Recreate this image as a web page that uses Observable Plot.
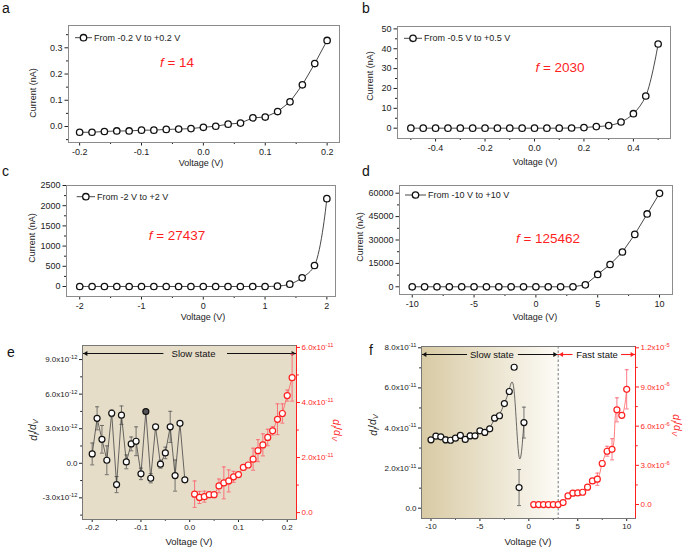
<!DOCTYPE html>
<html>
<head>
<meta charset="utf-8">
<script src="https://cdn.jsdelivr.net/npm/d3@7"></script>
<script src="https://cdn.jsdelivr.net/npm/@observablehq/plot@0.6"></script>
<style>
  html, body { margin: 0; padding: 0; background: #fff; }
  #root { position: relative; width: 685px; height: 549px; overflow: hidden; background: #fff; }
</style>
</head>
<body>
<div id="root"></div>
<script>
// ======================= DATA =======================
// Panel a
const aVoltage = [-0.2,-0.18,-0.16,-0.14,-0.12,-0.1,-0.08,-0.06,-0.04,-0.02,0,0.02,0.04,0.06,0.08,0.1,0.12,0.14,0.16,0.18,0.2];
const aCurrent = [-0.022,-0.022,-0.019,-0.017,-0.017,-0.014,-0.014,-0.011,-0.010,-0.008,-0.003,0.001,0.009,0.013,0.033,0.036,0.057,0.094,0.159,0.240,0.328];
const aLegend = "From -0.2 V to +0.2 V";
const aF = "14";
const aXTicks = [-0.2,-0.1,0,0.1,0.2];
const aXMinor = [-0.15,-0.05,0.05,0.15];
const aYTicks = [0,0.1,0.2,0.3];
const aYMinor = [-0.05,0.05,0.15,0.25,0.35];
// Panel b
const bVoltage = [-0.5,-0.45,-0.4,-0.35,-0.3,-0.25,-0.2,-0.15,-0.1,-0.05,0,0.05,0.1,0.15,0.2,0.25,0.3,0.35,0.4,0.45,0.5];
const bCurrent = [0,0,0,0,0,0,0,0,0,0,0,0,0,0.1,0.3,0.8,1.3,3.1,7.3,16.2,42.4];
const bLegend = "From -0.5 V to +0.5 V";
const bF = "2030";
const bXTicks = [-0.4,-0.2,0,0.2,0.4];
const bXMinor = [-0.5,-0.3,-0.1,0.1,0.3,0.5];
const bYTicks = [0,10,20,30,40,50];
const bYMinor = [5,15,25,35,45];
// Panel c
const cVoltage = [-2,-1.8,-1.6,-1.4,-1.2,-1,-0.8,-0.6,-0.4,-0.2,0,0.2,0.4,0.6,0.8,1,1.2,1.4,1.6,1.8,2];
const cCurrent = [0,0,0,0,0,0,0,0,0,0,0,0,0,0,0,0,8,58,215,520,2175];
const cLegend = "From -2 V to +2 V";
const cF = "27437";
const cXTicks = [-2,-1,0,1,2];
const cXMinor = [-1.5,-0.5,0.5,1.5];
const cYTicks = [0,500,1000,1500,2000,2500];
const cYMinor = [250,750,1250,1750,2250];
// Panel d
const dVoltage = [-10,-9,-8,-7,-6,-5,-4,-3,-2,-1,0,1,2,3,4,5,6,7,8,9,10];
const dCurrent = [0,0,0,0,0,0,0,0,0,0,0,0,0,0,1250,7900,14300,22300,33600,46700,59900];
const dLegend = "From -10 V to +10 V";
const dF = "125462";
const dXTicks = [-10,-5,0,5,10];
const dXMinor = [-7.5,-2.5,2.5,7.5];
const dYTicks = [0,15000,30000,45000,60000];
const dYMinor = [7500,22500,37500,52500];
// Panel e (black: left axis, unit 1e-12; red: right axis, unit 1e-11)
const eBlackVoltage = [-0.2,-0.19,-0.18,-0.17,-0.16,-0.15,-0.14,-0.13,-0.12,-0.11,-0.1,-0.09,-0.08,-0.07,-0.06,-0.05,-0.04,-0.03,-0.02,-0.01];
const eBlackDIDV = [0.81,3.9,2.08,0.26,4.34,-1.85,4.17,0.12,1.68,1.91,-0.92,4.49,-1.3,3.16,-0.08,0.9,3.16,-1.07,3.47,-1.44];
const eBlackErr = [0.95,1.0,1.2,1.25,0.3,0.7,0.8,0.6,0.6,1.25,0.5,0.05,0.4,0.1,0.35,0.5,1.35,1.35,0.1,0.1];
const eBlackUnit = 1e-12;
const eBlackFilled = [-0.09];
const eRedVoltage = [0.01,0.02,0.03,0.04,0.05,0.06,0.07,0.08,0.09,0.1,0.11,0.12,0.13,0.14,0.15,0.16,0.17,0.18,0.19,0.2,0.21];
const eRedDIDV = [0.67,0.55,0.58,0.65,0.65,0.97,1.08,1.15,1.3,1.38,1.64,1.73,1.94,2.25,2.46,2.73,2.97,3.39,3.6,4.25,4.9];
const eRedErr = [0.48,0.22,0.2,0.05,0.05,0.25,0.58,0.4,0.2,0.05,0.05,0.05,0.4,0.4,0.4,0.3,0.15,0.56,0.35,0.2,0.85];
const eRedUnit = 1e-11;
const eXTicks = [-0.2,-0.1,0,0.1,0.2];
const eXMinor = [-0.15,-0.05,0.05,0.15];
const eYTicks = [-3e-12,0,3e-12,6e-12,9e-12];
const eYMinor = [-4.5e-12,-1.5e-12,1.5e-12,4.5e-12,7.5e-12];
const eY2Ticks = [0,2e-11,4e-11,6e-11];
const eY2Minor = [1e-11,3e-11,5e-11];
const eStateLabels = ["Slow state"];
// Panel f (black: left axis, unit 1e-11; red: right axis, unit 1e-6)
const fBlackVoltage = [-10,-9.5,-9,-8.5,-8,-7.5,-7,-6.5,-6,-5.5,-5,-4.5,-4,-3.5,-3,-2.5,-2,-1.5,-1,-0.5];
const fBlackDIDV = [3.41,3.59,3.56,3.41,3.39,3.49,3.63,3.43,3.61,3.61,3.86,3.78,3.96,4.49,4.61,5.22,5.82,7.03,1.03,4.27];
const fBlackErr = [0.05,0.05,0.08,0.15,0.05,0.05,0.05,0.05,0.15,0.05,0.05,0.05,0.05,0.05,0.05,0.05,0.1,0.08,0.9,0.77];
const fBlackUnit = 1e-11;
const fRedVoltage = [0.5,1,1.5,2,2.5,3,3.5,4,4.5,5,5.5,6,6.5,7,7.5,8,8.5,9,9.5,10];
const fRedDIDV = [0,0,0,0,0,0,0.15,0.66,0.87,0.89,0.94,1.33,1.81,1.94,3.14,4.08,4.23,7.25,6.83,8.82];
const fRedErr = [0,0,0,0,0,0,0.05,0.1,0.08,0.05,0.05,0.1,0.15,0.47,0.23,0.38,0.81,0.92,0.1,1.5];
const fRedUnit = 1e-6;
const fBoundary = 3;
const fXTicks = [-10,-5,0,5,10];
const fXMinor = [-7.5,-2.5,2.5,7.5];
const fYTicks = [0,2e-11,4e-11,6e-11,8e-11];
const fYMinor = [1e-11,3e-11,5e-11,7e-11];
const fY2Ticks = [0,3e-6,6e-6,9e-6,1.2e-5];
const fY2Minor = [1.5e-6,4.5e-6,7.5e-6,1.05e-5];
const fStateLabels = ["Slow state","Fast state"];
const panelLetters = ["a","b","c","d","e","f"];

// ======================= RENDER =======================
const FONT = '"Liberation Sans", Arial, Helvetica, sans-serif';
const RED = "#ff1f1f";
const root = document.getElementById("root");

const fixed = n => v => v.toFixed(n);
const plain = v => String(v);
const blank = () => "";
const sci = v => {
  if (v === 0) return "0.0";
  const e = Math.floor(Math.log10(Math.abs(v)) + 1e-9);
  return (v / Math.pow(10, e)).toFixed(1) + "x10^" + e;
};

function superscripts(svg) {
  svg.querySelectorAll("text").forEach(t => {
    const m = t.textContent.match(/^(.*x10)\^(.+)$/);
    if (!m) return;
    t.textContent = "";
    const sel = d3.select(t);
    sel.append("tspan").text(m[1]);
    sel.append("tspan").attr("font-size", "72%").attr("dy", "-0.55em").text(m[2]);
  });
}

function place(svg, left, top) {
  svg.style.position = "absolute";
  svg.style.left = left + "px";
  svg.style.top = top + "px";
  svg.style.maxWidth = "none";
  root.appendChild(svg);
}

function styleStr(size, color) {
  return `font-family: ${FONT}; font-size: ${size}px; color: ${color}; background: transparent; overflow: visible;`;
}

function ivPanel(c) {
  const data = c.V.map((v, k) => ({v, i: c.I[k]}));
  const [mt, mr, mb, ml] = c.m;
  const svg = Plot.plot({
    width: c.w, height: c.h, marginTop: mt, marginRight: mr, marginBottom: mb, marginLeft: ml,
    style: styleStr(9, "#222"),
    x: {domain: c.xDomain, label: null},
    y: {domain: c.yDomain, label: null},
    marks: [
      Plot.axisX({ticks: c.xTicks, tickFormat: c.xFmt, tickSize: 3.5, tickPadding: 2.5, label: null}),
      Plot.axisX({ticks: c.xMinor, tickFormat: blank, tickSize: 2, label: null}),
      Plot.axisY({ticks: c.yTicks, tickFormat: c.yFmt, tickSize: 3.5, tickPadding: 2.5, label: null}),
      Plot.axisY({ticks: c.yMinor, tickFormat: blank, tickSize: 2, label: null}),
      Plot.line(data, {x: "v", y: "i", curve: c.curve, stroke: "#333", strokeWidth: 0.9}),
      Plot.dot(data, {x: "v", y: "i", r: 3.2, stroke: "#111", strokeWidth: 1.3, fill: "white"}),
      Plot.frame({stroke: "#8c8c8c"})
    ]
  });
  const s = d3.select(svg);
  // legend
  const [lx, ly, len] = c.leg;
  const lg = s.append("g").attr("transform", `translate(${ml + lx},${mt + ly})`);
  lg.append("line").attr("x1", 0).attr("x2", len).attr("stroke", "#333").attr("stroke-width", 0.9);
  lg.append("circle").attr("cx", len / 2).attr("r", 3.2).attr("fill", "white").attr("stroke", "#111").attr("stroke-width", 1.3);
  lg.append("text").attr("x", len + 2).attr("dy", "0.35em").attr("text-anchor", "start")
    .attr("font-size", 9).attr("fill", "#222").text(c.legend);
  // f = ...
  const ft = s.append("text").attr("x", c.fPos[0]).attr("y", c.fPos[1]).attr("text-anchor", "middle")
    .attr("fill", RED).attr("font-size", 13.5);
  ft.append("tspan").attr("font-style", "italic").text("f");
  ft.append("tspan").text(" = " + c.f);
  // axis titles
  s.append("text").attr("transform", `translate(${c.yt[0]},${c.yt[1]}) rotate(-90)`)
    .attr("text-anchor", "middle").attr("dy", "0.35em").attr("font-size", 9).attr("fill", "#222").text("Current (nA)");
  s.append("text").attr("x", c.xt[0]).attr("y", c.xt[1]).attr("text-anchor", "middle")
    .attr("dy", "0.35em").attr("font-size", 9).attr("fill", "#222").text("Voltage (V)");
  place(svg, c.left, c.top);
}

function dIdV(sel) {
  sel.append("tspan").attr("font-style", "italic").text("d");
  sel.append("tspan").attr("font-style", "italic").attr("font-size", "70%").attr("dy", "0.35em").text("I");
  sel.append("tspan").attr("dy", "-0.35em").text("/");
  sel.append("tspan").attr("font-style", "italic").text("d");
  sel.append("tspan").attr("font-style", "italic").attr("font-size", "70%").attr("dy", "0.35em").text("V");
}

const cap = {draw(ctx, size) { const w = Math.sqrt(size / Math.PI); ctx.moveTo(-w, 0); ctx.lineTo(w, 0); }};

function dualPanel(c) {
  const [mt, mr, mb, ml] = c.m;
  const fh = c.h - mt - mb;
  const blk = c.bV.map((v, k) => ({v, y: c.bY[k] * c.bUnit, e: c.bE[k] * c.bUnit,
    fill: c.filled.includes(v) ? "#555" : "white"}));
  const red = c.rV.map((v, k) => ({v, y: c.rY[k] * c.rUnit, e: c.rE[k] * c.rUnit}));
  const yArr = c.yDomain[1] - (c.arrowPx / fh) * (c.yDomain[1] - c.yDomain[0]);
  const base = {width: c.w, height: c.h, marginTop: mt, marginRight: mr, marginBottom: mb, marginLeft: ml};
  const stateMarks = c.states.flatMap(st => {
    const from = st.from ?? c.xDomain[0], to = st.to ?? c.xDomain[1];
    return [
      Plot.ruleY([yArr], {x1: from, x2: st.gap[0], stroke: st.color, strokeWidth: 1.1}),
      Plot.ruleY([yArr], {x1: st.gap[1], x2: to, stroke: st.color, strokeWidth: 1.1}),
      Plot.dot([from], {x: d => d, y: () => yArr, symbol: "triangle2", r: 2.3, rotate: -90, dx: 3.5, fill: st.color, stroke: "none"}),
      Plot.dot([to], {x: d => d, y: () => yArr, symbol: "triangle2", r: 2.3, rotate: 90, dx: -3.5, fill: st.color, stroke: "none"}),
      Plot.text([st.label], {x: st.center, y: yArr, text: d => d, fill: "#111", fontSize: 9.5})
    ];
  });
  const gid = "grad-" + c.id;
  const frameFill = c.gradient ? `url(#${gid})` : c.bg;
  const svgA = Plot.plot({
    ...base,
    style: styleStr(8, "#222"),
    x: {domain: c.xDomain, label: null},
    y: {domain: c.yDomain, label: null},
    marks: [
      Plot.frame({fill: frameFill, stroke: "none"}),
      ...(c.boundary != null ? [Plot.ruleX([c.boundary], {stroke: "#777", strokeDasharray: "2.5,2", strokeWidth: 1})] : []),
      ...stateMarks,
      Plot.axisX({ticks: c.xTicks, tickFormat: c.xFmt, tickSize: 3, tickPadding: 2, label: null}),
      Plot.axisX({ticks: c.xMinor, tickFormat: blank, tickSize: 1.8, label: null}),
      Plot.axisY({ticks: c.yTicks, tickFormat: sci, tickSize: 3, tickPadding: 2, label: null}),
      Plot.axisY({ticks: c.yMinor, tickFormat: blank, tickSize: 1.8, label: null}),
      Plot.ruleX(blk, {x: "v", y1: d => d.y - d.e, y2: d => d.y + d.e, stroke: "#555", strokeWidth: 0.8}),
      Plot.dot(blk, {x: "v", y: d => d.y - d.e, symbol: cap, r: 2, stroke: "#555", strokeWidth: 0.8, fill: "none"}),
      Plot.dot(blk, {x: "v", y: d => d.y + d.e, symbol: cap, r: 2, stroke: "#555", strokeWidth: 0.8, fill: "none"}),
      Plot.line(blk, {x: "v", y: "y", curve: c.bCurve, stroke: "#444", strokeWidth: 0.8}),
      Plot.dot(blk, {x: "v", y: "y", r: 3, stroke: "#111", strokeWidth: 1.2, fill: "fill"}),
      Plot.frame({stroke: "#777"})
    ]
  });
  const sA = d3.select(svgA);
  if (c.gradient) {
    const off = (c.boundary - c.xDomain[0]) / (c.xDomain[1] - c.xDomain[0]);
    const lg = sA.insert("defs", ":first-child").append("linearGradient")
      .attr("id", gid).attr("x1", 0).attr("x2", 1).attr("y1", 0).attr("y2", 0);
    lg.append("stop").attr("offset", 0).attr("stop-color", c.gradient[0]);
    lg.append("stop").attr("offset", off).attr("stop-color", c.gradient[1]);
    lg.append("stop").attr("offset", off).attr("stop-color", "#ffffff");
    lg.append("stop").attr("offset", 1).attr("stop-color", "#ffffff");
  }
  dIdV(sA.append("text").attr("transform", `translate(${c.yt[0]},${c.yt[1]}) rotate(-90)`)
    .attr("text-anchor", "middle").attr("dy", "0.35em").attr("font-size", 10.5).attr("fill", "#222"));
  sA.append("text").attr("x", c.xt[0]).attr("y", c.xt[1]).attr("text-anchor", "middle")
    .attr("dy", "0.35em").attr("font-size", 9.5).attr("fill", "#222").text("Voltage (V)");
  superscripts(svgA);
  place(svgA, c.left, c.top);

  const svgB = Plot.plot({
    ...base,
    style: styleStr(8, RED),
    x: {domain: c.xDomain, axis: null},
    y: {domain: c.y2Domain, label: null},
    marks: [
      Plot.ruleX([c.xDomain[1]], {stroke: RED, strokeWidth: 1}),
      Plot.axisY({anchor: "right", ticks: c.y2Ticks, tickFormat: sci, tickSize: 3, tickPadding: 2, label: null}),
      Plot.axisY({anchor: "right", ticks: c.y2Minor, tickFormat: blank, tickSize: 1.8, label: null}),
      Plot.ruleX(red, {x: "v", y1: d => d.y - d.e, y2: d => d.y + d.e, stroke: "#f56", strokeWidth: 0.8}),
      Plot.dot(red, {x: "v", y: d => d.y - d.e, symbol: cap, r: 2, stroke: "#f56", strokeWidth: 0.8, fill: "none"}),
      Plot.dot(red, {x: "v", y: d => d.y + d.e, symbol: cap, r: 2, stroke: "#f56", strokeWidth: 0.8, fill: "none"}),
      Plot.line(red, {x: "v", y: "y", curve: c.rCurve, stroke: "#ff5a5a", strokeWidth: 0.8}),
      Plot.dot(red, {x: "v", y: "y", r: 3, stroke: RED, strokeWidth: 1.2, fill: "white"})
    ]
  });
  const sB = d3.select(svgB);
  dIdV(sB.append("text").attr("transform", `translate(${c.y2t[0]},${c.y2t[1]}) rotate(90)`)
    .attr("text-anchor", "middle").attr("dy", "0.35em").attr("font-size", 10.5).attr("fill", RED));
  superscripts(svgB);
  place(svgB, c.left, c.top);
}

// ---- panels a-d ----
ivPanel({left: 0, top: 0, w: 342, h: 170, m: [25, 3, 28, 68],
  xDomain: [-0.218, 0.22], yDomain: [-0.061, 0.385],
  xTicks: aXTicks, xMinor: aXMinor, xFmt: fixed(1), yTicks: aYTicks, yMinor: aYMinor, yFmt: fixed(1),
  V: aVoltage, I: aCurrent, curve: "linear", legend: aLegend, f: aF,
  leg: [7, 12.7, 17], fPos: [177, 67], yt: [33, 93], xt: [201, 163]});
ivPanel({left: 342, top: 0, w: 343, h: 170, m: [26, 15, 32, 55],
  xDomain: [-0.554, 0.55], yDomain: [-5.2, 51.2],
  xTicks: bXTicks, xMinor: bXMinor, xFmt: fixed(1), yTicks: bYTicks, yMinor: bYMinor, yFmt: plain,
  V: bVoltage, I: bCurrent, curve: "catmull-rom", legend: bLegend, f: bF,
  leg: [7, 12.3, 18], fPos: [218, 72], yt: [28, 76], xt: [193, 162]});
ivPanel({left: 0, top: 170, w: 342, h: 160, m: [15, 7, 34, 66],
  xDomain: [-2.214, 2.14], yDomain: [-248, 2500],
  xTicks: cXTicks, xMinor: cXMinor, xFmt: plain, yTicks: cYTicks, yMinor: cYMinor, yFmt: plain,
  V: cVoltage, I: cCurrent, curve: "catmull-rom", legend: cLegend, f: cF,
  leg: [10.7, 11.7, 18.3], fPos: [177, 70], yt: [32, 68], xt: [203, 147]});
ivPanel({left: 342, top: 170, w: 343, h: 160, m: [15, 13, 36, 57],
  xDomain: [-11.03, 11.05], yDomain: [-4940, 64940],
  xTicks: dXTicks, xMinor: dXMinor, xFmt: plain, yTicks: dYTicks, yMinor: dYMinor, yFmt: plain,
  V: dVoltage, I: dCurrent, curve: "linear", legend: dLegend, f: dF,
  leg: [6, 10, 21], fPos: [206, 73], yt: [18, 67], xt: [193, 147]});

// ---- panels e-f ----
dualPanel({id: "e", left: 0, top: 340, w: 342, h: 209, m: [5, 46, 30, 82],
  xDomain: [-0.2199, 0.219], yDomain: [-4.88e-12, 10.22e-12], y2Domain: [-0.25e-11, 6.07e-11],
  xTicks: eXTicks, xMinor: eXMinor, xFmt: fixed(1), yTicks: eYTicks, yMinor: eYMinor, y2Ticks: eY2Ticks, y2Minor: eY2Minor,
  bV: eBlackVoltage, bY: eBlackDIDV, bE: eBlackErr, bUnit: eBlackUnit, filled: eBlackFilled, bCurve: "linear",
  rV: eRedVoltage, rY: eRedDIDV, rE: eRedErr, rUnit: eRedUnit, rCurve: "linear",
  bg: "#e6ddc8", gradient: null, boundary: null, arrowPx: 8,
  states: [{label: eStateLabels[0], gap: [-0.053, 0.0775], center: 0.0078, color: "#111"}],
  yt: [33, 90], y2t: [337, 90], xt: [189, 202]});
dualPanel({id: "f", left: 342, top: 340, w: 343, h: 209, m: [6, 50, 31, 79],
  xDomain: [-10.97, 10.9], yDomain: [-0.514e-11, 8.065e-11], y2Domain: [-1.07e-6, 1.21e-5],
  xTicks: fXTicks, xMinor: fXMinor, xFmt: plain, yTicks: fYTicks, yMinor: fYMinor, y2Ticks: fY2Ticks, y2Minor: fY2Minor,
  bV: fBlackVoltage, bY: fBlackDIDV, bE: fBlackErr, bUnit: fBlackUnit, filled: [], bCurve: "basis",
  rV: fRedVoltage, rY: fRedDIDV, rE: fRedErr, rUnit: fRedUnit, rCurve: "catmull-rom",
  bg: null, gradient: ["#d8caa4", "#fcfbf6"], boundary: fBoundary, arrowPx: 8,
  states: [
    {label: fStateLabels[0], to: fBoundary, gap: [-6.27, -1.07], center: -3.78, color: "#111"},
    {label: fStateLabels[1], from: fBoundary, gap: [4.52, 9.48], center: 6.97, color: RED}
  ],
  yt: [31, 85], y2t: [335, 85], xt: [186, 202]});

// ---- panel letters ----
const letterPos = [[2, 13], [362, 13], [2, 176], [362, 176], [7, 357], [369, 355]];
const ls = d3.select(root).append("svg").attr("width", 685).attr("height", 549)
  .style("position", "absolute").style("left", "0px").style("top", "0px").style("pointer-events", "none");
ls.selectAll("text").data(panelLetters).join("text")
  .attr("x", (d, k) => letterPos[k][0]).attr("y", (d, k) => letterPos[k][1])
  .attr("font-family", FONT).attr("font-size", 14).attr("fill", "#111").text(d => d);
</script>
</body>
</html>
